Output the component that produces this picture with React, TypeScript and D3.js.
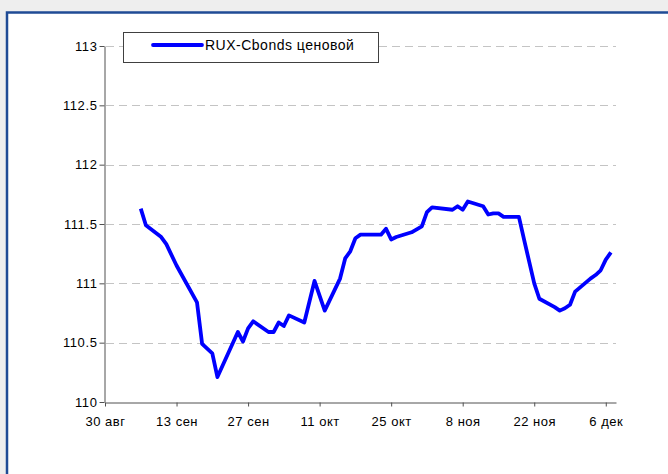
import React, { useEffect, useRef } from 'react';
import * as d3 from 'd3';

// RUX-Cbonds price index, trading days (2012)
const dates = [
  '2012-09-06', '2012-09-07', '2012-09-10', '2012-09-11', '2012-09-13',
  '2012-09-17', '2012-09-18', '2012-09-19', '2012-09-20', '2012-09-21',
  '2012-09-25', '2012-09-26', '2012-09-27', '2012-09-28',
  '2012-10-01', '2012-10-02', '2012-10-03', '2012-10-04', '2012-10-05',
  '2012-10-08', '2012-10-10', '2012-10-12', '2012-10-15', '2012-10-16',
  '2012-10-17', '2012-10-18', '2012-10-19', '2012-10-23', '2012-10-24',
  '2012-10-25', '2012-10-26', '2012-10-29', '2012-10-31',
  '2012-11-01', '2012-11-02', '2012-11-06', '2012-11-07', '2012-11-08',
  '2012-11-09', '2012-11-12', '2012-11-13', '2012-11-14', '2012-11-15',
  '2012-11-16', '2012-11-19', '2012-11-20', '2012-11-22', '2012-11-23',
  '2012-11-26', '2012-11-27', '2012-11-28', '2012-11-29', '2012-11-30',
  '2012-12-03', '2012-12-04', '2012-12-05', '2012-12-06', '2012-12-07',
];

const values = [
  111.63, 111.49, 111.39, 111.33, 111.15,
  110.84, 110.49, 110.45, 110.41, 110.21,
  110.59, 110.51, 110.62, 110.68,
  110.59, 110.59, 110.67, 110.64, 110.73,
  110.67, 111.02, 110.77, 111.04, 111.21,
  111.27, 111.38, 111.41, 111.41, 111.46,
  111.37, 111.39, 111.43, 111.48,
  111.60, 111.64, 111.62, 111.65, 111.62,
  111.69, 111.65, 111.58, 111.59, 111.59,
  111.56, 111.56, 111.37, 111.00, 110.87,
  110.80, 110.77, 110.79, 110.82, 110.93,
  111.04, 111.07, 111.11, 111.20, 111.26,
];

const tickDates = [
  '2012-08-30', '2012-09-13', '2012-09-27', '2012-10-11',
  '2012-10-25', '2012-11-08', '2012-11-22', '2012-12-06',
];
const tickLabels = ['30 авг', '13 сен', '27 сен', '11 окт', '25 окт', '8 ноя', '22 ноя', '6 дек'];
const yTicks = [110, 110.5, 111, 111.5, 112, 112.5, 113];
const seriesName = 'RUX-Cbonds ценовой';

const font = '"Liberation Sans", Arial, sans-serif';

export default function App() {
  const svgRef = useRef<SVGSVGElement | null>(null);

  useEffect(() => {
    const parse = d3.timeParse('%Y-%m-%d');
    const data = dates.map((d, i) => ({ date: parse(d) as Date, value: values[i] }));

    const left = 105, right = 616, top = 46, bottom = 402;

    const x = d3.scaleTime()
      .domain([parse('2012-08-30') as Date, parse('2012-12-08') as Date])
      .range([left, right]);
    const y = d3.scaleLinear().domain([110, 113]).range([bottom, top]);

    const svg = d3.select(svgRef.current);
    svg.selectAll('*').remove();

    // page background and chart frame
    svg.append('rect').attr('width', 668).attr('height', 474).attr('fill', '#eeeeee');
    svg.append('rect')
      .attr('x', 7).attr('y', 12.5)
      .attr('width', 700).attr('height', 500)
      .attr('fill', '#ffffff')
      .attr('stroke', '#1f4b95')
      .attr('stroke-width', 2.5);

    // gridlines
    svg.append('g')
      .selectAll('line')
      .data(yTicks.filter(t => t !== 110))
      .enter()
      .append('line')
      .attr('x1', left + 1).attr('x2', right)
      .attr('y1', d => Math.round(y(d)) + 0.5)
      .attr('y2', d => Math.round(y(d)) + 0.5)
      .attr('stroke', '#c4c4c4')
      .attr('stroke-dasharray', '8,5');

    // y axis
    const yAxis = svg.append('g')
      .attr('transform', `translate(${left - 0.5},0)`)
      .call(d3.axisLeft(y).tickValues(yTicks).tickSize(5).tickSizeOuter(0)
        .tickFormat(d => String(d)));
    yAxis.select('.domain').attr('stroke', '#505050');
    yAxis.selectAll('.tick line').attr('stroke', '#505050');
    yAxis.selectAll('.tick text')
      .attr('x', -7)
      .attr('fill', '#000')
      .style('font-family', font)
      .style('font-size', '13px')
      .style('letter-spacing', '0.6px');

    // x axis
    const xAxis = svg.append('g')
      .attr('transform', `translate(0,${bottom + 0.5})`)
      .call(d3.axisBottom(x)
        .tickValues(tickDates.map(d => parse(d) as Date))
        .tickSize(4).tickSizeOuter(0)
        .tickFormat((d, i) => tickLabels[i]));
    xAxis.select('.domain').attr('stroke', '#505050');
    xAxis.selectAll('.tick line').attr('stroke', '#505050');
    xAxis.selectAll('.tick text')
      .attr('y', 14)
      .attr('fill', '#000')
      .style('font-family', font)
      .style('font-size', '13px')
      .style('letter-spacing', '0.5px');

    // series line
    const line = d3.line<{ date: Date; value: number }>()
      .x(d => x(d.date))
      .y(d => y(d.value));

    svg.append('path')
      .datum(data)
      .attr('d', line)
      .attr('fill', 'none')
      .attr('stroke', '#0000ff')
      .attr('stroke-width', 3.8)
      .attr('stroke-linejoin', 'round');

    // legend
    const lg = svg.append('g');
    lg.append('rect')
      .attr('x', 123.5).attr('y', 32.5)
      .attr('width', 255).attr('height', 30)
      .attr('fill', '#ffffff')
      .attr('stroke', '#404040');
    lg.append('line')
      .attr('x1', 153).attr('x2', 202)
      .attr('y1', 45).attr('y2', 45)
      .attr('stroke', '#0000ff')
      .attr('stroke-width', 3.8)
      .attr('stroke-linecap', 'round');
    lg.append('text')
      .attr('x', 205).attr('y', 50)
      .style('font-family', font)
      .style('font-size', '14px')
      .style('letter-spacing', '0.5px')
      .attr('fill', '#000')
      .text(seriesName);
  }, []);

  return (
    <div style={{ position: 'fixed', left: 0, top: 0 }}>
      <svg ref={svgRef} width={668} height={474} style={{ display: 'block' }} />
    </div>
  );
}
